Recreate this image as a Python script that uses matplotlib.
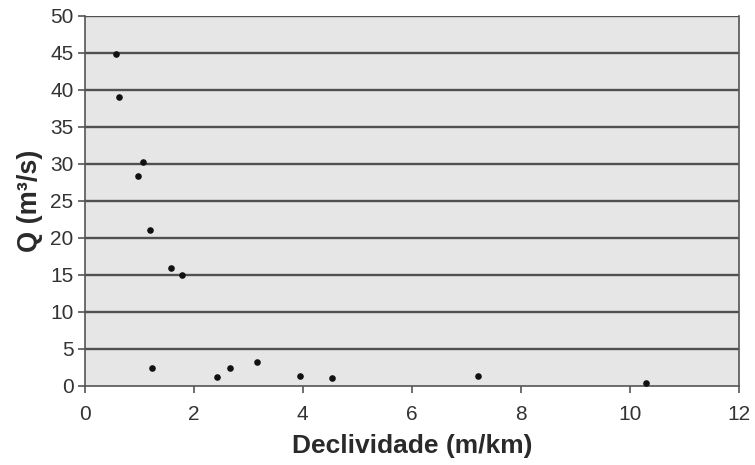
import matplotlib
matplotlib.use("Agg")
import matplotlib.pyplot as plt

plt.rcParams["font.family"] = ["Liberation Sans", "DejaVu Sans"]

# Declividade (m/km) vs vazao Q (m3/s)
declividade = [0.58, 0.64, 1.07, 0.98, 1.20, 1.58, 1.79, 1.24, 2.42, 2.67,
               3.16, 3.95, 4.54, 7.21, 10.29]
vazao = [44.9, 39.0, 30.2, 28.4, 21.1, 16.0, 15.0, 2.4, 1.2, 2.4,
         3.3, 1.35, 1.1, 1.35, 0.36]

x_ticks = [0, 2, 4, 6, 8, 10, 12]
y_ticks = [0, 5, 10, 15, 20, 25, 30, 35, 40, 45, 50]

fig = plt.figure(figsize=(7.55, 4.65), dpi=100)
ax = fig.add_axes([0.112, 0.170, 0.867, 0.796])
ax.set_facecolor("#e6e6e6")

for y in y_ticks[1:]:
    ax.axhline(y, color="#505050", lw=1.7, zorder=1)

ax.scatter(declividade, vazao, s=14, color="#111111", zorder=3)

ax.set_xlim(0, 12)
ax.set_ylim(0, 50)
ax.set_xticks(x_ticks)
ax.set_yticks(y_ticks)

for side in ["left", "bottom", "right"]:
    ax.spines[side].set_color("#555555")
    ax.spines[side].set_linewidth(1.2)
ax.spines["top"].set_visible(False)

ax.tick_params(axis="both", colors="#555555", labelcolor="#333333",
               labelsize=15, length=5, width=1.2)
ax.tick_params(axis="x", pad=9)
ax.tick_params(axis="y", pad=3)

ax.set_xlabel("Declividade (m/km)", fontsize=19, fontweight="bold",
              color="#2a2a2a", labelpad=7)
ax.set_ylabel("Q (m³/s)", fontsize=19.5, fontweight="bold",
              color="#2a2a2a", labelpad=5)

fig.savefig("out.png", dpi=100)
